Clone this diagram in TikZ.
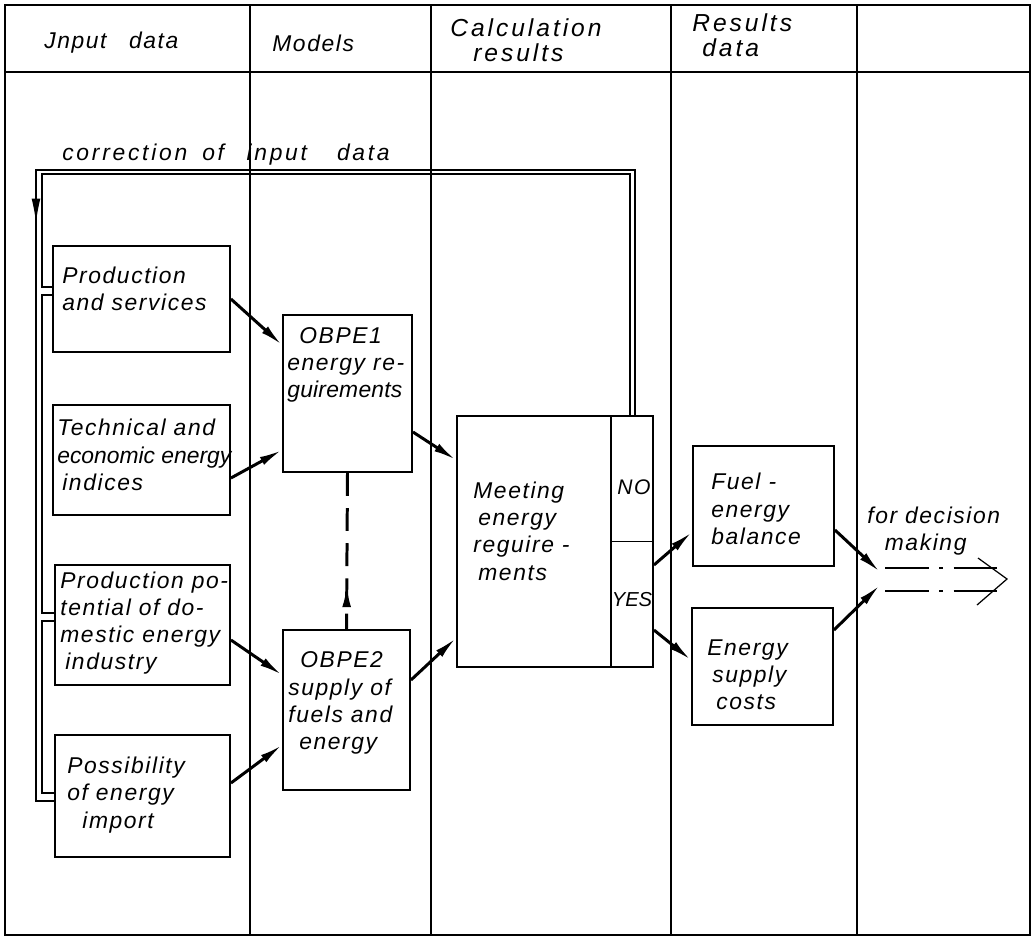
\documentclass[tikz,border=0pt]{standalone}
\usepackage{fontspec}
\newfontfamily\handfont[LetterSpace=7]{Liberation Sans}
\newfontfamily\headfont[LetterSpace=12]{Liberation Sans}
\usetikzlibrary{arrows.meta, positioning, calc, decorations.markings}

\tikzset{
  hand/.style={font=\handfont\itshape\fontsize{13}{15.5}\selectfont},
  head/.style={font=\headfont\itshape\fontsize{14}{14.5}\selectfont},
  txt/.style={hand, anchor=west, align=left, inner sep=0pt},
  block/.style={draw, line width=1.1pt, rectangle, inner sep=0pt},
  flow/.style={line width=1.7pt, -{Latex[length=13pt,width=5pt]}},
  bus/.style={line width=0.9pt},
  grid line/.style={line width=0.8pt},
  out line/.style={line width=0.6pt, dash pattern=on 25pt off 6pt on 2pt off 6pt}
}

\begin{document}
\begin{tikzpicture}[x=0.02cm, y=-0.02cm]
  \useasboundingbox (0,0) rectangle (1035,938);

  % Frame and columns
  \draw[line width=1pt] (5,5) rectangle (1030,935);
  \draw[grid line] (5,72) -- (1030,72);
  \foreach \xc in {250,431,671,857} {
    \draw[grid line] (\xc,5) -- (\xc,935);
  }

  % Column heads
  \node[txt] (hin) at (44,43) {Jnput\hspace{0.45cm}data};
  \node[txt] (hmod) at (272,43) {Models};
  \node[txt, head] (hcalc) at (450,40) {Calculation\\\hspace*{0.46cm}results};
  \node[txt, head] (hres) at (692,35) {Results\\\hspace*{0.2cm}data};

  % Input data
  \node[block, minimum width=3.54cm, minimum height=2.12cm] (prod) at (141.5,299) {};
  \node[block, minimum width=3.54cm, minimum height=2.2cm] (tech) at (141.5,460) {};
  \node[block, minimum width=3.5cm, minimum height=2.4cm] (dom) at (142.5,625) {};
  \node[block, minimum width=3.5cm, minimum height=2.44cm] (imp) at (142.5,796) {};

  \node[txt] (prodtxt) at (62,289) {Production\\and services};
  \node[txt] (techtxt) at (57,455)
    {Technical and\\{\addfontfeature{LetterSpace=0}economic energy}\\\hspace*{0.1cm}indices};
  \node[txt] (domtxt) at (60,623)
    {Production po-\\tential of do-\\mestic energy\\\hspace*{0.1cm}industry};
  \node[txt] (imptxt) at (67,795) {Possibility\\of energy\\\hspace*{0.3cm}import};

  % Models
  \node[block, minimum width=2.58cm, minimum height=3.14cm] (obpe1) at (347.5,393.5) {};
  \node[block, minimum width=2.54cm, minimum height=3.2cm] (obpe2) at (346.5,710) {};

  \node[txt] (obpe1txt) at (287,365)
    {\hspace*{0.24cm}OBPE1\\energy re-\\{\addfontfeature{LetterSpace=1}guirements}};
  \node[txt] (obpe2txt) at (288,703)
    {\hspace*{0.24cm}OBPE2\\supply of\\fuels and\\\hspace*{0.22cm}energy};

  % Calculation results
  \node[block, minimum width=3.92cm, minimum height=5.02cm] (meet) at (555,541.5) {};
  \draw[line width=0.9pt] ([xshift=1.12cm]meet.north) -- ([xshift=1.12cm]meet.south);
  \draw[line width=0.9pt] ([xshift=1.12cm]meet.center) -- (meet.east);

  \node[txt] (meettxt) at (473,531) {Meeting\\\hspace*{0.1cm}energy\\reguire -\\\hspace*{0.1cm}ments};
  \node[inner sep=0pt, font=\handfont\itshape\fontsize{12}{14}\selectfont] (no) at (634,487) {NO};
  \node[inner sep=0pt, font=\handfont\itshape\fontsize{11.5}{14}\selectfont\addfontfeature{LetterSpace=0}]
    (yes) at (632,600) {YES};

  % Results data
  \node[block, minimum width=2.82cm, minimum height=2.4cm] (fuel) at (763.5,506) {};
  \node[block, minimum width=2.82cm, minimum height=2.34cm] (cost) at (762.5,666.5) {};

  \node[txt] (fueltxt) at (711,509) {Fuel -\\energy\\balance};
  \node[txt] (costtxt) at (707,675) {Energy\\\hspace*{0.1cm}supply\\\hspace*{0.18cm}costs};

  % Decision output
  \node[txt] (dec) at (867,531) {for decision\\\hspace*{0.35cm}making};
  \coordinate (dm1) at (880,572);
  \coordinate (dm2) at (880,585);
  \coordinate (tip) at (1007,579);
  \draw[out line] (885,568) -- (1000,568);
  \draw[out line] (885,591) -- (1000,591);
  \draw[line width=0.7pt] (978,558) -- (tip) -- (977,605);

  % Correction loop
  \node[txt, head, font=\headfont\itshape\fontsize{13}{15}\selectfont] (corr) at (62,155)
    {correction\hspace{0.3cm}of\hspace{0.45cm}input\hspace{0.6cm}data};
  \draw[bus, postaction={decorate}, decoration={markings,
      mark=at position 17.95cm with {\arrow{Latex[length=14pt,width=5pt]}}}]
    ([xshift=1.6cm]meet.north) |- (36,170) |- ([yshift=-0.1cm]imp.west);
  \draw[bus] ([xshift=1.5cm]meet.north) |- (42,174) |- ([yshift=0.24cm]prod.west);
  \draw[bus] ([yshift=0.08cm]prod.west) -| (42,450) |- ([yshift=0.24cm]dom.west);
  \draw[bus] ([yshift=0.08cm]dom.west) -| (42,700) |- ([yshift=0.06cm]imp.west);

  % Flows
  \draw[flow] (prod.east) -- ([yshift=0.97cm]obpe1.west);
  \draw[flow] ([yshift=-0.36cm]tech.east) -- ([yshift=-1.13cm]obpe1.west);
  \draw[flow] ([yshift=-0.3cm]dom.east) -- ([yshift=0.7cm]obpe2.west);
  \draw[flow] ([yshift=0.26cm]imp.east) -- ([yshift=-0.7cm]obpe2.west);
  \draw[flow] ([yshift=-0.77cm]obpe1.east) -- ([yshift=1.63cm]meet.west);
  \draw[flow] ([yshift=0.6cm]obpe2.east) -- ([yshift=-1.93cm]meet.west);
  \draw[flow] ([yshift=-0.47cm]meet.east) -- ([yshift=-0.52cm]fuel.west);
  \draw[flow] ([yshift=-1.77cm]meet.east) -- ([yshift=0.13cm]cost.west);
  \draw[flow] ([yshift=-0.48cm]fuel.east) -- (dm1);
  \draw[flow] ([yshift=0.73cm]cost.east) -- (dm2);

  % Link between the two models
  \draw[line width=1.7pt, dash pattern=on 13pt off 7pt, postaction={decorate},
      decoration={markings,
      mark=at position 0.86 with {\arrow{Latex[reversed,length=13pt,width=5pt]}}}]
    (obpe1.south) -- (obpe2.north);
\end{tikzpicture}
\end{document}
